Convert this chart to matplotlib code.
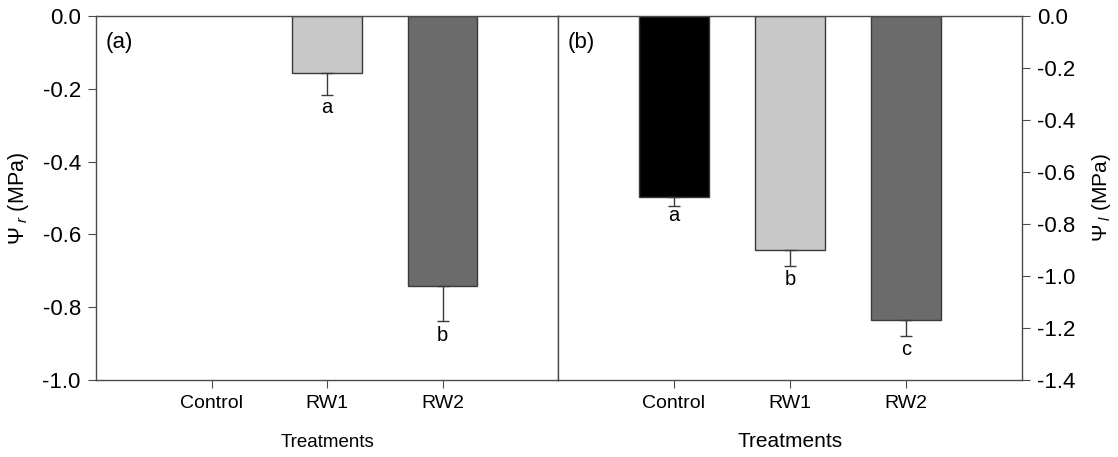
'''plot.py  Water potential of roots (a) and leaves (b) under three treatments.'''

import matplotlib
matplotlib.use('Agg')
import matplotlib.pyplot as plt

plt.rcParams['font.family'] = ['Liberation Sans', 'DejaVu Sans']
plt.rcParams['mathtext.fontset'] = 'custom'
plt.rcParams['mathtext.rm'] = 'Liberation Sans'
plt.rcParams['mathtext.it'] = 'Liberation Sans:italic'

# data
treatments = ['Control', 'RW1', 'RW2']
root_psi = [0.0, -0.156, -0.743]
root_err = [0.0, 0.062, 0.094]
root_letters = ['', 'a', 'b']
leaf_psi = [-0.695, -0.901, -1.168]
leaf_err = [0.035, 0.059, 0.063]
leaf_letters = ['a', 'b', 'c']
bar_colors = ['#000000', '#c8c8c8', '#6b6b6b']

spine_col = '#4a4a4a'


def panel(ax, vals, errs, letters, ymin, step, tag, letter_pad):
  xs = [1, 2, 3]
  for x, v, e, c in zip(xs, vals, errs, bar_colors):
    if v == 0:
      continue
    ax.bar(x, v, width=0.6, color=c, edgecolor='#3a3a3a', linewidth=1.0, zorder=2)
    ax.errorbar(x, v, yerr=[[e], [0]], fmt='none', ecolor='#3a3a3a',
                elinewidth=1.0, capsize=4, capthick=1.0, zorder=3)
  for x, v, e, t, p in zip(xs, vals, errs, letters, letter_pad):
    if t:
      ax.annotate(t, (x, v - e), xytext=(0, -p), textcoords='offset points',
                  ha='center', va='top', fontsize=14.5)
  ax.set_xlim(0, 4)
  ax.set_ylim(ymin, 0)
  ax.set_xticks(xs)
  ax.set_xticklabels(treatments, fontsize=14)
  ticks = [round(ymin + i * step, 1) for i in range(int(round(-ymin / step)) + 1)]
  ax.set_yticks(ticks)
  ax.set_yticklabels(['%.1f' % t for t in ticks], fontsize=16)
  ax.tick_params(direction='out', length=6, color=spine_col, pad=5)
  for s in ax.spines.values():
    s.set_color(spine_col)
    s.set_linewidth(1.0)
  ax.text(0.02, 0.955, tag, transform=ax.transAxes, va='top', ha='left', fontsize=16)


fig = plt.figure(figsize=(11.18, 4.57), dpi=100)
ax1 = fig.add_axes([0.0859, 0.1685, 0.4132, 0.7965])
ax2 = fig.add_axes([0.4991, 0.1685, 0.4150, 0.7965])

panel(ax1, root_psi, root_err, root_letters, -1.0, 0.2, '(a)', [2, 2, 4])
ax1.set_ylabel(r'$\Psi_{\ r}$ (MPa)', fontsize=15.5, labelpad=8)
ax1.set_xlabel('Treatments', fontsize=13.5, labelpad=16)

panel(ax2, leaf_psi, leaf_err, leaf_letters, -1.4, 0.2, '(b)', [0, 3, 3])
ax2.yaxis.tick_right()
ax2.yaxis.set_label_position('right')
ax2.set_ylabel(r'$\Psi_{\ l}$ (MPa)', fontsize=15, labelpad=10)
ax2.set_xlabel('Treatments', fontsize=15, labelpad=14)

fig.savefig('out.png', dpi=100)
